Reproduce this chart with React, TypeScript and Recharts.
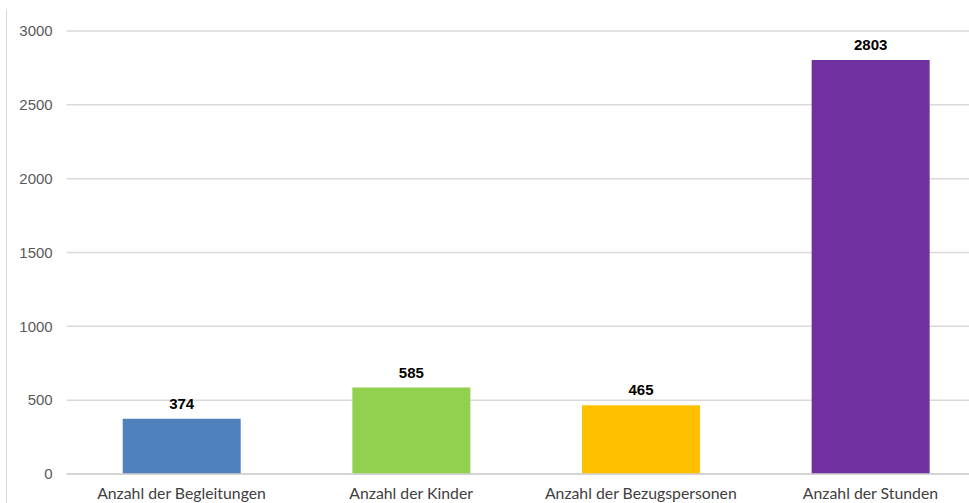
import React from "react";
import { BarChart, Bar, XAxis, YAxis, CartesianGrid, Cell, LabelList } from "recharts";

const categories = ["Anzahl der Begleitungen", "Anzahl der Kinder", "Anzahl der Bezugspersonen", "Anzahl der Stunden"];
const values = [374, 585, 465, 2803];
const colors = ["#4F81BD", "#92D050", "#FFC000", "#7030A0"];
const yTicks = [0, 500, 1000, 1500, 2000, 2500, 3000];

const data = categories.map((name, i) => ({ name, value: values[i] }));

export default function App() {
  return (
    <div style={{ position: "absolute", left: 0, top: 0, width: 969, height: 503, overflow: "hidden", background: "#fff" }}>
      <div style={{ position: "absolute", left: 6, top: 10, width: 0, height: 493, borderLeft: "1.5px solid #d9d9d9" }} />
      <BarChart
        width={1000}
        height={503}
        data={data}
        margin={{ top: 31, right: 14.7, bottom: 0, left: 0 }}
      >
        <CartesianGrid vertical={false} stroke="#d9d9d9" strokeWidth={1.5} />
        <XAxis
          dataKey="name"
          height={29}
          axisLine={{ stroke: "#d0d0d0", strokeWidth: 1.5 }}
          tickLine={false}
          tickSize={0}
          tickMargin={14}
          interval={0}
          tick={{ fill: "#404040", fontSize: 15.8, fontFamily: "Lato" }}
        />
        <YAxis
          width={66.7}
          domain={[0, 3000]}
          ticks={yTicks}
          axisLine={false}
          tickLine={false}
          tickSize={0}
          tickMargin={14}
          tick={{ fill: "#595959", fontSize: 15, fontFamily: "Liberation Sans" }}
        />
        <Bar dataKey="value" barSize={118} isAnimationActive={false}>
          {data.map((d, i) => (
            <Cell key={d.name} fill={colors[i]} />
          ))}
          <LabelList
            dataKey="value"
            position="top"
            offset={10}
            style={{ fill: "#000", fontSize: 15, fontWeight: "bold", fontFamily: "Liberation Sans" }}
          />
        </Bar>
      </BarChart>
    </div>
  );
}
